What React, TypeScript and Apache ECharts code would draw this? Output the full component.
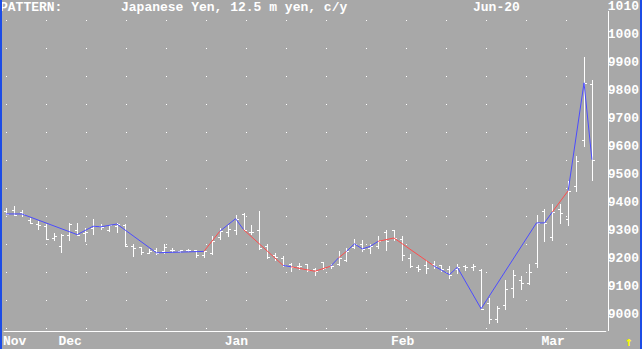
import React, { useEffect, useRef } from 'react';
import * as echarts from 'echarts';

// Month labels (index of first trading day of each month)
const monthIdx = [0, 7, 28, 49, 68];
const monthNames = ['Nov', 'Dec', 'Jan', 'Feb', 'Mar'];

// Daily OHLC (Japanese Yen, June 2020 contract)
const opens = [
  9370, 9373, 9365, 9338, 9322, 9315, 9272, 9242, 9281, 9300,
  9290, 9308, 9315, 9300, 9315, 9320, 9243, 9238, 9220, 9228,
  9225, 9230, 9225, 9230, 9228, 9210, 9218, 9275, 9292, 9300,
  9358, 9292, 9302, 9245, 9210, 9200, 9180, 9172, 9178, 9160,
  9185, 9172, 9180, 9195, 9240, 9250, 9236, 9245, 9295, 9302,
  9270, 9200, 9168, 9175, 9178, 9175, 9160, 9160, 9170, 9168,
  9159, 9040, 8983, 9033, 9094, 9120, 9111, 9183, 9367, 9276,
  9376, 9340, 9459, 9623, 9823,
];
const highs = [
  9381, 9387, 9371, 9343, 9331, 9322, 9290, 9286, 9326, 9326,
  9308, 9341, 9322, 9320, 9326, 9322, 9249, 9240, 9234, 9237,
  9249, 9237, 9230, 9234, 9230, 9224, 9278, 9308, 9320, 9355,
  9361, 9320, 9370, 9251, 9218, 9206, 9183, 9183, 9180, 9165,
  9187, 9180, 9224, 9236, 9269, 9266, 9251, 9278, 9302, 9302,
  9280, 9215, 9174, 9195, 9189, 9177, 9171, 9180, 9177, 9180,
  9161, 9058, 9030, 9123, 9159, 9135, 9180, 9355, 9376, 9395,
  9395, 9475, 9566, 9921, 9837,
];
const lows = [
  9357, 9353, 9349, 9326, 9304, 9269, 9266, 9222, 9266, 9284,
  9260, 9286, 9305, 9296, 9294, 9242, 9208, 9215, 9218, 9215,
  9218, 9222, 9222, 9226, 9203, 9203, 9215, 9269, 9278, 9286,
  9302, 9286, 9233, 9200, 9195, 9173, 9155, 9162, 9155, 9141,
  9162, 9165, 9177, 9189, 9236, 9224, 9218, 9236, 9230, 9266,
  9195, 9167, 9153, 9147, 9165, 9153, 9129, 9145, 9159, 9159,
  9019, 8969, 8971, 9019, 9061, 9088, 9109, 9169, 9260, 9266,
  9326, 9320, 9439, 9602, 9480,
];
const closes = [
  9358, 9355, 9358, 9327, 9320, 9270, 9280, 9284, 9322, 9284,
  9295, 9314, 9312, 9318, 9322, 9245, 9235, 9222, 9225, 9219,
  9240, 9228, 9228, 9230, 9210, 9224, 9262, 9296, 9305, 9341,
  9302, 9295, 9235, 9205, 9205, 9174, 9169, 9170, 9158, 9153,
  9165, 9171, 9201, 9224, 9251, 9233, 9242, 9260, 9262, 9272,
  9210, 9170, 9160, 9165, 9173, 9160, 9141, 9167, 9168, 9172,
  9019, 8983, 9023, 9090, 9141, 9110, 9149, 9326, 9326, 9365,
  9361, 9441, 9546, 9827, 9552,
];

// Pattern line: pivot bars (drawn through their closes) and colour of each segment
const pivotIdx = [0, 2, 9, 11, 12, 14, 19, 25, 27, 29, 30, 35, 36, 39, 41, 42, 43, 44, 45, 46, 47, 49, 54, 56, 57, 60, 67, 68, 69, 71, 73, 74];
const segColor = ['B', 'B', 'B', 'B', 'B', 'B', 'B', 'R', 'B', 'B', 'R', 'B', 'R', 'R', 'B', 'R', 'B', 'B', 'B', 'B', 'R', 'R', 'B', 'B', 'B', 'B', 'B', 'B', 'R', 'B', 'B'];

const BG = '#a8a8a8';
const BLUE = '#4c4cff';
const RED = '#ff4c4c';
const BORDER = '#1c4ce6';
const FONT = '"Liberation Mono", "DejaVu Sans Mono", monospace';

export default function App() {
  const ref = useRef<HTMLDivElement>(null);

  useEffect(() => {
    const chart = echarts.init(ref.current as HTMLDivElement, null, { renderer: 'svg' });

    const ohlc = opens.map((o, i) => [i, o, highs[i], lows[i], closes[i]]);

    const runs: { c: string; pts: number[] }[] = [];
    let cur: { c: string; pts: number[] } | null = null;
    for (let s = 0; s < segColor.length; s++) {
      const a = pivotIdx[s];
      const b = pivotIdx[s + 1];
      if (!cur || cur.c !== segColor[s]) {
        cur = { c: segColor[s], pts: [a] };
        runs.push(cur);
      }
      cur.pts.push(b);
    }
    const lineSeries = runs.map((r) => ({
      type: 'line',
      xAxisIndex: 0,
      yAxisIndex: 0,
      data: r.pts.map((i) => [i, closes[i]]),
      symbol: 'none',
      silent: true,
      z: 5,
      lineStyle: { color: r.c === 'R' ? RED : BLUE, width: 1 },
    }));

    const yMin = 10100 - (325 / 28) * 100;

    chart.setOption({
      animation: false,
      backgroundColor: BG,
      grid: { left: 0, top: 6, width: 608, height: 325, containLabel: false },
      xAxis: {
        type: 'value',
        min: -0.25,
        max: 75.75,
        minInterval: 1,
        maxInterval: 1,
        axisLine: { show: true, lineStyle: { color: '#ffffff', width: 1 } },
        axisTick: { show: false },
        splitLine: { show: false },
        axisLabel: {
          color: '#ffffff',
          fontFamily: FONT,
          fontWeight: 'bold',
          fontSize: 13,
          align: 'left',
          verticalAlign: 'middle',
          margin: 10,
          padding: [0, 0, 0, -3],
          showMinLabel: true,
          showMaxLabel: true,
          formatter: (v: number) => {
            if (!Number.isInteger(v)) return '';
            const k = monthIdx.indexOf(v);
            return k >= 0 ? monthNames[k] : '';
          },
        },
      },
      yAxis: [
        {
          type: 'value',
          position: 'right',
          min: yMin,
          max: 10100,
          minInterval: 100,
          maxInterval: 100,
          axisLine: { show: false },
          axisTick: { show: false },
          splitLine: { show: false },
          axisLabel: {
            color: '#ffffff',
            fontFamily: FONT,
            fontWeight: 'bold',
            fontSize: 13,
            align: 'left',
            margin: 2,
            formatter: (v: number) => (Math.abs(v % 100) < 1e-6 ? String(Math.round(v)).slice(0, 4) : ''),
          },
        },
        {
          // half-step grid of dots
          type: 'value',
          position: 'right',
          min: yMin + 50,
          max: 10150,
          minInterval: 100,
          maxInterval: 100,
          axisLine: { show: false },
          axisTick: { show: false },
          axisLabel: { show: false },
          splitLine: {
            show: true,
            showMinLine: false,
            showMaxLine: false,
            lineStyle: { color: '#ffffff', width: 1, type: [1, 39], dashOffset: 38 },
          },
        },
      ],
      series: [
        {
          type: 'custom',
          xAxisIndex: 0,
          yAxisIndex: 0,
          data: ohlc,
          encode: { x: 0, y: [1, 2, 3, 4] },
          silent: true,
          z: 3,
          renderItem: (params: any, api: any) => {
            const i = api.value(0);
            const pO = api.coord([i, api.value(1)]);
            const pH = api.coord([i, api.value(2)]);
            const pL = api.coord([i, api.value(3)]);
            const pC = api.coord([i, api.value(4)]);
            const xi = Math.round(pH[0]);
            const yO = Math.round(pO[1]) + 0.5;
            const yC = Math.round(pC[1]) + 0.5;
            const style = { stroke: '#ffffff', lineWidth: 1, fill: null };
            return {
              type: 'group',
              children: [
                { type: 'line', shape: { x1: xi + 0.5, y1: Math.round(pH[1]), x2: xi + 0.5, y2: Math.round(pL[1]) + 1 }, style },
                { type: 'line', shape: { x1: xi - 2, y1: yO, x2: xi + 1, y2: yO }, style },
                { type: 'line', shape: { x1: xi, y1: yC, x2: xi + 3, y2: yC }, style },
              ],
            };
          },
        },
        ...lineSeries,
      ],
      graphic: [
        { type: 'line', shape: { x1: 608.5, y1: 11, x2: 608.5, y2: 331 }, style: { stroke: '#ffffff', lineWidth: 1 }, z: 10 },
        { type: 'text', x: 0, y: 7, style: { text: 'PATTERN:', fill: '#ffffff', font: `bold 13px ${FONT}`, verticalAlign: 'middle' }, z: 10 },
        { type: 'text', x: 121, y: 7, style: { text: 'Japanese Yen, 12.5 m yen, c/y', fill: '#ffffff', font: `bold 13px ${FONT}`, verticalAlign: 'middle' }, z: 10 },
        { type: 'text', x: 473, y: 7, style: { text: 'Jun-20', fill: '#ffffff', font: `bold 13px ${FONT}`, verticalAlign: 'middle' }, z: 10 },
        { type: 'text', x: 625, y: 341, style: { text: '↑', fill: '#ffff00', font: `bold 13px "DejaVu Sans Mono", monospace`, verticalAlign: 'middle' }, z: 10 },
        { type: 'rect', shape: { x: 0, y: 0, width: 2, height: 349 }, style: { fill: BORDER }, z: 20 },
        { type: 'rect', shape: { x: 640, y: 0, width: 2, height: 349 }, style: { fill: BORDER }, z: 20 },
      ],
    });

    return () => chart.dispose();
  }, []);

  return <div ref={ref} style={{ position: 'fixed', left: 0, top: 0, width: 642, height: 349 }} />;
}
